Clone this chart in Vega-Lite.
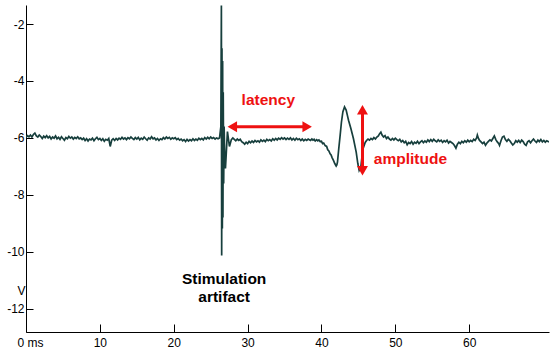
{
  "$schema": "https://vega.github.io/schema/vega-lite/v6.json",
  "width": 523,
  "height": 327,
  "autosize": "none",
  "padding": {"left": 26, "top": 5, "right": 1, "bottom": 20},
  "background": "white",
  "config": {"view": {"stroke": null}, "font": "Liberation Sans"},
  "datasets": {
    "trace": [
      {"t":0.0,"v":-5.98},{"t":0.2,"v":-5.92},{"t":0.4,"v":-5.96},{"t":0.6,"v":-5.9},{"t":0.8,"v":-5.97},{"t":1.0,"v":-5.88},{"t":1.2,"v":-5.83},{"t":1.4,"v":-5.93},{"t":1.6,"v":-5.97},{"t":1.8,"v":-5.9},
      {"t":2.0,"v":-5.95},{"t":2.2,"v":-6.02},{"t":2.4,"v":-5.94},{"t":2.6,"v":-5.99},{"t":2.8,"v":-5.92},{"t":3.0,"v":-6.0},{"t":3.2,"v":-5.95},{"t":3.4,"v":-6.04},{"t":3.6,"v":-5.97},{"t":3.8,"v":-6.01},
      {"t":4.0,"v":-5.93},{"t":4.2,"v":-6.03},{"t":4.4,"v":-5.98},{"t":4.6,"v":-6.05},{"t":4.8,"v":-5.96},{"t":5.0,"v":-6.02},{"t":5.2,"v":-6.08},{"t":5.4,"v":-5.99},{"t":5.6,"v":-6.03},{"t":5.8,"v":-5.95},
      {"t":6.0,"v":-6.01},{"t":6.2,"v":-5.97},{"t":6.4,"v":-6.04},{"t":6.6,"v":-5.98},{"t":6.8,"v":-6.02},{"t":7.0,"v":-5.96},{"t":7.2,"v":-6.03},{"t":7.4,"v":-6.0},{"t":7.6,"v":-6.06},{"t":7.8,"v":-6.01},
      {"t":8.0,"v":-6.09},{"t":8.2,"v":-6.03},{"t":8.4,"v":-6.11},{"t":8.6,"v":-6.04},{"t":8.8,"v":-6.07},{"t":9.0,"v":-6.01},{"t":9.2,"v":-6.1},{"t":9.4,"v":-6.03},{"t":9.6,"v":-5.98},{"t":9.8,"v":-6.06},
      {"t":10.0,"v":-6.02},{"t":10.2,"v":-6.09},{"t":10.4,"v":-6.03},{"t":10.6,"v":-6.12},{"t":10.8,"v":-6.05},{"t":11.0,"v":-6.08},{"t":11.2,"v":-6.02},{"t":11.4,"v":-6.3},{"t":11.6,"v":-6.08},{"t":11.8,"v":-6.03},
      {"t":12.0,"v":-6.09},{"t":12.2,"v":-6.02},{"t":12.4,"v":-6.07},{"t":12.6,"v":-6.01},{"t":12.8,"v":-6.05},{"t":13.0,"v":-5.98},{"t":13.2,"v":-6.04},{"t":13.4,"v":-6.0},{"t":13.6,"v":-6.06},{"t":13.8,"v":-5.99},
      {"t":14.0,"v":-6.03},{"t":14.2,"v":-5.97},{"t":14.4,"v":-6.02},{"t":14.6,"v":-6.06},{"t":14.8,"v":-5.99},{"t":15.0,"v":-6.04},{"t":15.2,"v":-5.98},{"t":15.4,"v":-6.07},{"t":15.6,"v":-6.01},{"t":15.8,"v":-6.05},
      {"t":16.0,"v":-5.97},{"t":16.2,"v":-6.03},{"t":16.4,"v":-6.08},{"t":16.6,"v":-6.0},{"t":16.8,"v":-6.04},{"t":17.0,"v":-5.96},{"t":17.2,"v":-6.03},{"t":17.4,"v":-6.0},{"t":17.6,"v":-6.07},{"t":17.8,"v":-6.02},
      {"t":18.0,"v":-6.09},{"t":18.2,"v":-6.03},{"t":18.4,"v":-6.06},{"t":18.6,"v":-5.99},{"t":18.8,"v":-6.04},{"t":19.0,"v":-5.97},{"t":19.2,"v":-6.02},{"t":19.4,"v":-5.98},{"t":19.6,"v":-6.05},{"t":19.8,"v":-6.0},
      {"t":20.0,"v":-6.03},{"t":20.2,"v":-5.99},{"t":20.4,"v":-6.06},{"t":20.6,"v":-6.02},{"t":20.8,"v":-6.08},{"t":21.0,"v":-6.04},{"t":21.2,"v":-6.1},{"t":21.4,"v":-6.06},{"t":21.6,"v":-6.13},{"t":21.8,"v":-6.05},
      {"t":22.0,"v":-6.11},{"t":22.2,"v":-6.06},{"t":22.4,"v":-6.1},{"t":22.6,"v":-6.03},{"t":22.8,"v":-6.09},{"t":23.0,"v":-6.04},{"t":23.2,"v":-6.08},{"t":23.4,"v":-6.01},{"t":23.6,"v":-6.06},{"t":23.8,"v":-6.02},
      {"t":24.0,"v":-6.07},{"t":24.2,"v":-5.99},{"t":24.4,"v":-6.04},{"t":24.6,"v":-5.98},{"t":24.8,"v":-6.03},{"t":25.0,"v":-5.97},{"t":25.2,"v":-6.02},{"t":25.4,"v":-5.99},{"t":25.6,"v":-6.04},{"t":25.8,"v":-6.0},
      {"t":26.0,"v":-6.03},{"t":26.2,"v":-6.0},{"t":26.38,"v":-5.6},{"t":26.45,"v":-1.35},{"t":26.49,"v":-10.13},{"t":26.53,"v":-2.85},{"t":26.58,"v":-9.18},{"t":26.62,"v":-3.3},{"t":26.66,"v":-8.8},{"t":26.7,"v":-4.4},
      {"t":26.76,"v":-7.6},{"t":26.82,"v":-5.6},{"t":26.9,"v":-6.6},{"t":27.0,"v":-7.07},{"t":27.27,"v":-5.78},{"t":27.54,"v":-6.3},{"t":27.8,"v":-6.06},{"t":28.0,"v":-6.0},{"t":28.2,"v":-6.05},{"t":28.4,"v":-6.1},
      {"t":28.6,"v":-6.04},{"t":28.8,"v":-6.09},{"t":29.0,"v":-6.05},{"t":29.2,"v":-6.13},{"t":29.4,"v":-6.17},{"t":29.6,"v":-6.22},{"t":29.8,"v":-6.15},{"t":30.0,"v":-6.2},{"t":30.2,"v":-6.12},{"t":30.4,"v":-6.17},
      {"t":30.6,"v":-6.11},{"t":30.8,"v":-6.16},{"t":31.0,"v":-6.09},{"t":31.2,"v":-6.14},{"t":31.4,"v":-6.1},{"t":31.6,"v":-6.15},{"t":31.8,"v":-6.07},{"t":32.0,"v":-6.12},{"t":32.2,"v":-6.08},{"t":32.4,"v":-6.13},
      {"t":32.6,"v":-6.05},{"t":32.8,"v":-6.1},{"t":33.0,"v":-6.06},{"t":33.2,"v":-6.11},{"t":33.4,"v":-6.03},{"t":33.6,"v":-6.08},{"t":33.8,"v":-6.02},{"t":34.0,"v":-6.07},{"t":34.2,"v":-6.01},{"t":34.4,"v":-6.05},
      {"t":34.6,"v":-5.99},{"t":34.8,"v":-6.04},{"t":35.0,"v":-6.0},{"t":35.2,"v":-6.06},{"t":35.4,"v":-6.01},{"t":35.6,"v":-6.05},{"t":35.8,"v":-6.0},{"t":36.0,"v":-6.07},{"t":36.2,"v":-6.02},{"t":36.4,"v":-6.08},
      {"t":36.6,"v":-6.01},{"t":36.8,"v":-6.06},{"t":37.0,"v":-6.03},{"t":37.2,"v":-6.09},{"t":37.4,"v":-6.04},{"t":37.6,"v":-6.1},{"t":37.8,"v":-6.05},{"t":38.0,"v":-6.09},{"t":38.2,"v":-6.04},{"t":38.5,"v":-6.09},
      {"t":38.7,"v":-6.04},{"t":38.85,"v":-6.08},{"t":39.0,"v":-6.05},{"t":39.15,"v":-6.11},{"t":39.35,"v":-6.06},{"t":39.5,"v":-6.1},{"t":39.65,"v":-6.07},{"t":39.82,"v":-6.13},{"t":40.0,"v":-6.12},{"t":40.15,"v":-6.2},
      {"t":40.3,"v":-6.18},{"t":40.5,"v":-6.27},{"t":40.7,"v":-6.3},{"t":40.85,"v":-6.42},{"t":41.0,"v":-6.46},{"t":41.17,"v":-6.56},{"t":41.3,"v":-6.6},{"t":41.45,"v":-6.7},{"t":41.62,"v":-6.79},{"t":41.8,"v":-6.9},
      {"t":41.99,"v":-6.99},{"t":42.08,"v":-6.95},{"t":42.17,"v":-6.84},{"t":42.35,"v":-6.35},{"t":42.53,"v":-5.9},{"t":42.7,"v":-5.45},{"t":42.9,"v":-5.08},{"t":43.12,"v":-4.91},{"t":43.34,"v":-5.02},{"t":43.5,"v":-5.2},
      {"t":43.66,"v":-5.38},{"t":43.98,"v":-5.67},{"t":44.33,"v":-6.03},{"t":44.7,"v":-6.5},{"t":44.92,"v":-6.9},{"t":45.1,"v":-7.14},{"t":45.33,"v":-7.02},{"t":45.6,"v":-6.4},{"t":45.92,"v":-6.16},{"t":46.1,"v":-6.09},
      {"t":46.3,"v":-6.04},{"t":46.5,"v":-6.08},{"t":46.7,"v":-6.02},{"t":46.9,"v":-6.06},{"t":47.1,"v":-5.99},{"t":47.3,"v":-6.04},{"t":47.5,"v":-5.97},{"t":47.7,"v":-5.93},{"t":47.85,"v":-5.86},{"t":48.04,"v":-5.8},
      {"t":48.2,"v":-5.9},{"t":48.4,"v":-5.97},{"t":48.6,"v":-5.92},{"t":48.8,"v":-6.02},{"t":49.0,"v":-5.97},{"t":49.2,"v":-6.04},{"t":49.4,"v":-6.08},{"t":49.6,"v":-6.02},{"t":49.8,"v":-6.07},{"t":50.0,"v":-6.01},
      {"t":50.2,"v":-6.06},{"t":50.4,"v":-6.1},{"t":50.6,"v":-6.05},{"t":50.8,"v":-6.14},{"t":51.0,"v":-6.09},{"t":51.2,"v":-6.17},{"t":51.4,"v":-6.12},{"t":51.6,"v":-6.24},{"t":51.8,"v":-6.16},{"t":52.0,"v":-6.2},
      {"t":52.2,"v":-6.13},{"t":52.4,"v":-6.22},{"t":52.6,"v":-6.15},{"t":52.8,"v":-6.19},{"t":53.0,"v":-6.12},{"t":53.2,"v":-6.2},{"t":53.4,"v":-6.14},{"t":53.6,"v":-6.1},{"t":53.8,"v":-6.17},{"t":54.0,"v":-6.11},
      {"t":54.2,"v":-6.15},{"t":54.4,"v":-6.07},{"t":54.6,"v":-6.13},{"t":54.8,"v":-6.06},{"t":55.0,"v":-6.12},{"t":55.2,"v":-6.05},{"t":55.4,"v":-6.1},{"t":55.6,"v":-6.14},{"t":55.8,"v":-6.07},{"t":56.0,"v":-6.12},
      {"t":56.2,"v":-6.08},{"t":56.4,"v":-6.16},{"t":56.6,"v":-6.1},{"t":56.8,"v":-6.14},{"t":57.0,"v":-6.08},{"t":57.2,"v":-6.18},{"t":57.4,"v":-6.12},{"t":57.6,"v":-6.16},{"t":57.8,"v":-6.2},{"t":58.0,"v":-6.27},
      {"t":58.2,"v":-6.36},{"t":58.4,"v":-6.22},{"t":58.6,"v":-6.15},{"t":58.8,"v":-6.2},{"t":59.0,"v":-6.12},{"t":59.2,"v":-6.17},{"t":59.4,"v":-6.1},{"t":59.6,"v":-6.15},{"t":59.8,"v":-6.08},{"t":60.0,"v":-6.14},
      {"t":60.2,"v":-6.09},{"t":60.4,"v":-6.13},{"t":60.6,"v":-6.05},{"t":60.8,"v":-6.09},{"t":61.0,"v":-6.0},{"t":61.1,"v":-5.9},{"t":61.25,"v":-6.02},{"t":61.4,"v":-6.09},{"t":61.6,"v":-6.14},{"t":61.8,"v":-6.2},
      {"t":62.0,"v":-6.15},{"t":62.2,"v":-6.26},{"t":62.4,"v":-6.18},{"t":62.6,"v":-6.12},{"t":62.8,"v":-6.07},{"t":63.0,"v":-6.11},{"t":63.2,"v":-6.02},{"t":63.4,"v":-5.93},{"t":63.6,"v":-6.06},{"t":63.8,"v":-6.14},
      {"t":64.0,"v":-6.2},{"t":64.1,"v":-6.26},{"t":64.3,"v":-6.1},{"t":64.5,"v":-5.97},{"t":64.7,"v":-5.94},{"t":64.9,"v":-6.06},{"t":65.1,"v":-6.12},{"t":65.3,"v":-6.05},{"t":65.5,"v":-6.1},{"t":65.7,"v":-6.18},
      {"t":65.9,"v":-6.25},{"t":66.1,"v":-6.2},{"t":66.3,"v":-6.1},{"t":66.5,"v":-6.15},{"t":66.7,"v":-6.09},{"t":66.9,"v":-6.16},{"t":67.1,"v":-6.08},{"t":67.3,"v":-6.13},{"t":67.5,"v":-6.22},{"t":67.7,"v":-6.26},
      {"t":67.9,"v":-6.14},{"t":68.1,"v":-6.1},{"t":68.3,"v":-6.17},{"t":68.5,"v":-6.1},{"t":68.7,"v":-6.04},{"t":68.9,"v":-6.11},{"t":69.1,"v":-6.16},{"t":69.3,"v":-6.08},{"t":69.5,"v":-6.13},{"t":69.7,"v":-6.06},
      {"t":69.9,"v":-6.14},{"t":70.1,"v":-6.09},{"t":70.3,"v":-6.15},{"t":70.5,"v":-6.1},{"t":70.8,"v":-6.14}
    ],
    "rules": [
      {"x": 27.93, "x2": 38.06, "y": -5.605, "y2": -5.605},
      {"x": 45.55, "x2": 45.55, "y": -5.01, "y2": -7.15}
    ],
    "heads": [
      {"x": 27.93, "y": -5.605, "shape": "triangle-left"},
      {"x": 38.06, "y": -5.605, "shape": "triangle-right"},
      {"x": 45.55, "y": -5.01, "shape": "triangle-up"},
      {"x": 45.55, "y": -7.15, "shape": "triangle-down"}
    ],
    "labels": [
      {"x": 32.8, "y": -4.67, "text": "latency", "color": "red"},
      {"x": 52.04, "y": -6.75, "text": "amplitude", "color": "red"},
      {"x": 26.82, "y": -10.97, "text": "Stimulation", "color": "black"},
      {"x": 26.82, "y": -11.6, "text": "artifact", "color": "black"}
    ]
  },
  "layer": [
    {
      "data": {"name": "trace"},
      "mark": {"type": "line", "color": "#173f3d", "strokeWidth": 1.7, "clip": true, "interpolate": "linear"},
      "encoding": {
        "x": {
          "field": "t", "type": "quantitative",
          "scale": {"domain": [0, 70.8], "nice": false, "zero": false},
          "axis": {
            "title": null, "values": [0, 10, 20, 30, 40, 50, 60], "grid": false,
            "domainColor": "black", "tickColor": "black", "tickSize": -8, "labelPadding": 13,
            "labelColor": "black", "labelFontSize": 12, "labelFont": "Liberation Sans",
            "labelExpr": "datum.value == 0 ? '0 ms' : '' + datum.value",
            "labelOffset": {"condition": {"test": "datum.value == 0", "value": 4}, "value": 0},
            "labelFlush": false, "labelOverlap": false
          }
        },
        "y": {
          "field": "v", "type": "quantitative",
          "scale": {"domain": [-12.82, -1.33], "nice": false, "zero": false},
          "axis": {
            "title": "V", "titleAngle": 0, "titleX": -5, "titleY": 285, "titleAlign": "center",
            "titleBaseline": "middle", "titleFontWeight": "normal", "titleFontSize": 12, "titleFont": "Liberation Sans",
            "titleColor": "black",
            "values": [-12, -10, -8, -6, -4, -2], "grid": false,
            "domainColor": "black", "tickColor": "black", "tickSize": -7, "labelPadding": 9,
            "labelColor": "black", "labelFontSize": 12, "labelFont": "Liberation Sans",
            "labelExpr": "'' + datum.value"
          }
        }
      }
    },
    {
      "data": {"name": "rules"},
      "mark": {"type": "rule", "color": "#ee1111", "strokeWidth": 3},
      "encoding": {
        "x": {"field": "x", "type": "quantitative"},
        "x2": {"field": "x2"},
        "y": {"field": "y", "type": "quantitative"},
        "y2": {"field": "y2"}
      }
    },
    {
      "data": {"name": "heads"},
      "mark": {"type": "point", "filled": true, "color": "#ee1111", "size": 120, "opacity": 1},
      "encoding": {
        "x": {"field": "x", "type": "quantitative"},
        "y": {"field": "y", "type": "quantitative"},
        "shape": {"field": "shape", "type": "nominal", "scale": null, "legend": null}
      }
    },
    {
      "data": {"name": "labels"},
      "mark": {"type": "text", "fontWeight": "bold", "fontSize": 15.5, "font": "Liberation Sans", "align": "center", "baseline": "middle"},
      "encoding": {
        "x": {"field": "x", "type": "quantitative"},
        "y": {"field": "y", "type": "quantitative"},
        "text": {"field": "text"},
        "color": {"field": "color", "type": "nominal", "scale": {"domain": ["red", "black"], "range": ["#ee1111", "#000000"]}, "legend": null}
      }
    }
  ]
}
